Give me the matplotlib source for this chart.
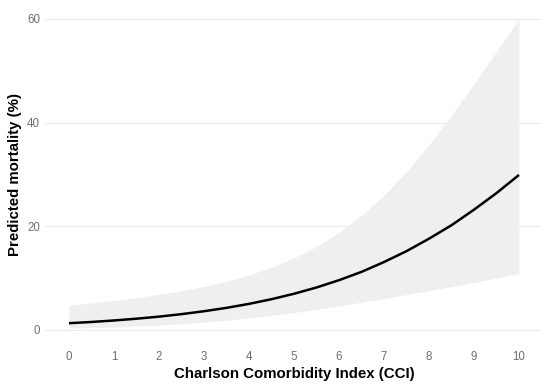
import matplotlib
matplotlib.use("Agg")
import matplotlib.pyplot as plt

plt.rcParams['font.family'] = ['Liberation Sans', 'DejaVu Sans']

cci = [0, 0.5, 1, 1.5, 2, 2.5, 3, 3.5, 4, 4.5, 5, 5.5, 6, 6.5, 7, 7.5, 8, 8.5, 9, 9.5, 10]
mortality = [1.3, 1.54, 1.83, 2.17, 2.57, 3.05, 3.61, 4.26, 5.03, 5.93, 6.98,
             8.19, 9.60, 11.2, 13.1, 15.2, 17.6, 20.2, 23.2, 26.4, 29.9]
upper = [4.79, 5.21, 5.69, 6.23, 6.85, 7.56, 8.40, 9.40, 10.6, 12.1, 13.9,
         16.1, 18.8, 22.1, 26.0, 30.5, 35.7, 41.4, 47.5, 53.7, 60.0]
lower = [0.34, 0.45, 0.57, 0.74, 0.94, 1.19, 1.50, 1.87, 2.31, 2.81, 3.37,
         3.99, 4.65, 5.34, 6.06, 6.81, 7.57, 8.36, 9.16, 10.0, 10.9]
x_ticks = [0, 1, 2, 3, 4, 5, 6, 7, 8, 9, 10]
y_ticks = [0, 20, 40, 60]

fig = plt.figure(figsize=(5.5, 3.85), dpi=100)
ax = fig.add_axes([0.0845, 0.1026, 0.9, 0.8886])

ax.fill_between(cci, lower, upper, color='#EFEFEF', linewidth=0, zorder=2)
ax.plot(cci, mortality, color='black', linewidth=1.8, zorder=3, solid_capstyle='butt')

ax.set_xlim(-0.5, 10.5)
ax.set_ylim(-3, 63)
ax.set_xticks(x_ticks)
ax.set_yticks(y_ticks)
ax.grid(False)
for yv in y_ticks:
    ax.axhline(yv, color='#EBEBEB', linewidth=0.8, zorder=1)

for s in ax.spines.values():
    s.set_visible(False)
ax.tick_params(axis='both', length=0, labelsize=8.3, labelcolor='#6E6E6E')
ax.tick_params(axis='y', pad=4.5)
ax.tick_params(axis='x', pad=4.2)

ax.set_xlabel('Charlson Comorbidity Index (CCI)', fontsize=10.8, fontweight='bold', labelpad=3)
ax.set_ylabel('Predicted mortality (%)', fontsize=10.8, fontweight='bold', labelpad=4)

fig.savefig('out.png', dpi=100)
